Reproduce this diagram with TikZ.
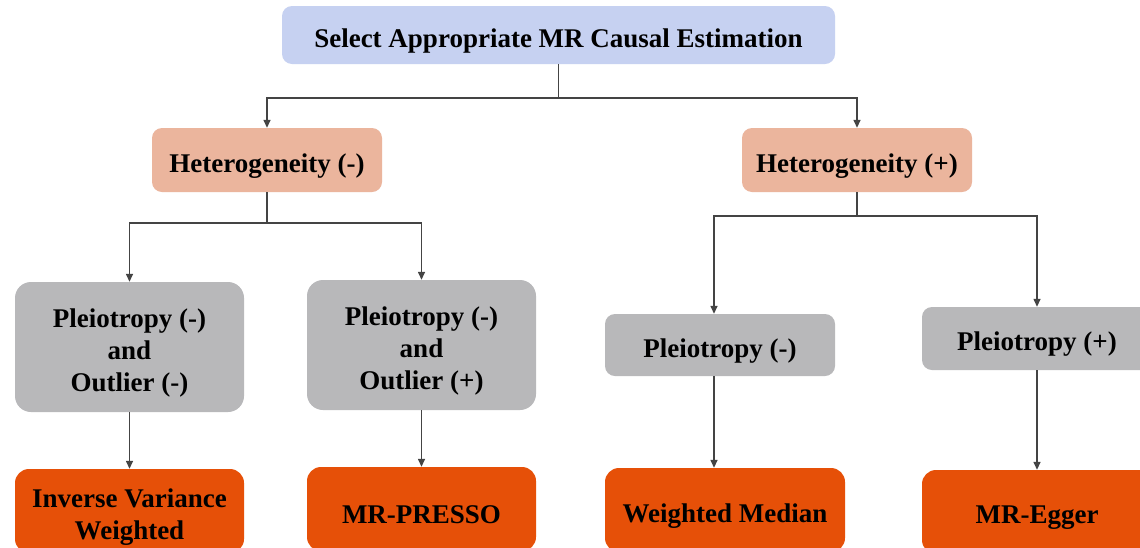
\documentclass[tikz,border=0pt]{standalone}
\usepackage{fontspec}
\setmainfont{Liberation Serif}
\usetikzlibrary{arrows.meta}
\definecolor{topblue}{HTML}{C6D1F1}
\definecolor{hetsalmon}{HTML}{EBB59D}
\definecolor{pgray}{HTML}{B8B8BA}
\definecolor{resorange}{HTML}{E65008}
\definecolor{linegray}{HTML}{444444}
\tikzset{
  lbl/.style={align=center, inner sep=0pt, yshift=-6pt,
    font=\fontsize{27}{32}\selectfont\bfseries, text=black},
  box/.style={rectangle, rounded corners=10pt, inner sep=0pt},
  topbox/.style={box, fill=topblue, minimum width=553pt, minimum height=58pt},
  hetbox/.style={box, fill=hetsalmon, minimum width=230pt, minimum height=64pt},
  plbox/.style={box, fill=pgray, rounded corners=16pt, minimum width=229pt},
  resbox/.style={box, fill=resorange, rounded corners=14pt, minimum height=84pt},
  conn/.style={draw=linegray, line width=1.4pt},
  arr/.style={conn, -{Triangle[length=8pt,width=7pt]}}
}
\begin{document}
\begin{tikzpicture}[x=1pt,y=-1pt]
\useasboundingbox (0,0) rectangle (1140,547);
\fill[white] (0,0) rectangle (1140,547);
\node[topbox, label={[lbl]center:{Select Appropriate MR Causal Estimation}}] (top) at (558.5,35) {};
\node[hetbox, label={[lbl]center:{Heterogeneity (-)}}] (hn) at (267,160) {};
\node[hetbox, label={[lbl]center:{Heterogeneity (+)}}] (hp) at (857,160) {};
\node[plbox, minimum height=130pt, label={[lbl]center:{Pleiotropy (-)\\and\\Outlier (-)}}] (p1) at (129.5,347) {};
\node[plbox, minimum height=130pt, label={[lbl]center:{Pleiotropy (-)\\and\\Outlier (+)}}] (p2) at (421.5,345) {};
\node[plbox, rounded corners=10pt, minimum width=230pt, minimum height=62pt, label={[lbl]center:{Pleiotropy (-)}}] (p3) at (720,345) {};
\node[plbox, rounded corners=10pt, minimum width=230pt, minimum height=63pt, label={[lbl]center:{Pleiotropy (+)}}] (p4) at (1037,338.5) {};
\node[resbox, minimum width=229pt, label={[lbl]center:{Inverse Variance\\Weighted}}] (r1) at (129.5,511) {};
\node[resbox, minimum width=229pt, label={[lbl]center:{MR-PRESSO}}] (r2) at (421.5,509) {};
\node[resbox, minimum width=240pt, label={[lbl]center:{Weighted Median}}] (r3) at (725,510) {};
\node[resbox, minimum width=230pt, label={[lbl]center:{MR-Egger}}] (r4) at (1037,512) {};
\coordinate (j0) at (558.5,98);
\coordinate (j1) at (267,223);
\coordinate (j2) at (857,216);
\draw[conn] (top.south) -- (j0);
\draw[arr] (j0) -| (hn.north);
\draw[arr] (j0) -| (hp.north);
\draw[conn] (hn.south) -- (j1);
\draw[arr] (j1) -| (p1.north);
\draw[arr] (j1) -| (p2.north);
\draw[conn] (hp.south) -- (j2);
\draw[arr] (j2) -| ([xshift=-6pt]p3.north);
\draw[arr] (j2) -| (p4.north);
\draw[arr] (p1.south) -- (r1.north);
\draw[arr] (p2.south) -- (r2.north);
\draw[arr] ([xshift=-6pt]p3.south) -- ([xshift=-11pt]r3.north);
\draw[arr] (p4.south) -- (r4.north);
\end{tikzpicture}
\end{document}
